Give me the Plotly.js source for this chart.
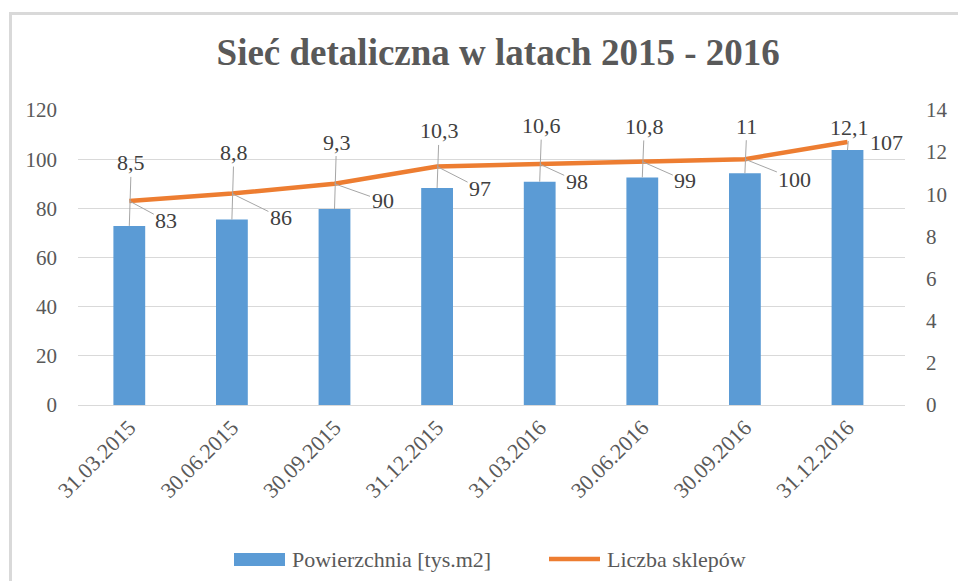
<!DOCTYPE html>
<html>
<head>
<meta charset="utf-8">
<script src="https://cdn.plot.ly/plotly-3.0.1.min.js"></script>
<style>
  html, body { margin:0; padding:0; background:#ffffff; }
  #frame { position:absolute; left:9px; top:12px; width:1000px; height:620px;
           border-left:3px solid #d9d9d9; border-top:3px solid #d9d9d9; box-sizing:border-box; }
  #chart { position:absolute; left:0; top:0; width:958px; height:581px; }
</style>
</head>
<body>
<div id="frame"></div>
<div id="chart"></div>
<script>
// ---- data ----
const categories = ["31.03.2015","30.06.2015","30.09.2015","31.12.2015","31.03.2016","30.06.2016","30.09.2016","31.12.2016"];
const powierzchnia = [8.5, 8.8, 9.3, 10.3, 10.6, 10.8, 11, 12.1];   // [tys.m2]
const liczbaSklepow = [83, 86, 90, 97, 98, 99, 100, 107];
const seriesNames = ["Powierzchnia [tys.m2]", "Liczba sklepów"];
const leftTicks = [0, 20, 40, 60, 80, 100, 120];
const rightTicks = [0, 2, 4, 6, 8, 10, 12, 14];

// ---- layout config (label offsets in px) ----
const barLabelOffsetY = [-63, -67, -67, -57, -56, -51, -47, -23];
const lineLabelOffset = [[37,20],[49,24],[48,17],[43,22],[37,17],[43,19],[50,20],[39,1]];

const W = 958, H = 581;
const M = {l:78, r:53, t:110, b:176};
const pw = W - M.l - M.r, ph = H - M.t - M.b;
const px = x => (x - M.l) / pw;
const py = y => (M.t + ph - y) / ph;

const FONT = '"Liberation Serif", serif';
const tickColor = "#595959";
const labelColor = "#404040";
const barColor = "#5B9BD5";
const lineColor = "#ED7D31";

const fmt = v => String(v).replace('.', ',');

const traces = [
  { type:'bar', name:seriesNames[0], x:categories, y:powierzchnia, yaxis:'y',
    marker:{color:barColor}, showlegend:false },
  { type:'scatter', mode:'lines', name:seriesNames[1], x:categories, y:liczbaSklepow, yaxis:'y2',
    line:{color:lineColor, width:4.5, shape:'linear'}, showlegend:false }
];

const annotations = [];
categories.forEach((c, i) => {
  annotations.push({
    x:c, y:powierzchnia[i], xref:'x', yref:'y', text:fmt(powierzchnia[i]),
    showarrow:true, arrowhead:0, arrowwidth:1, arrowcolor:'#a6a6a6', standoff:0,
    ax:2, ay:barLabelOffsetY[i], font:{family:FONT, size:22, color:labelColor}
  });
  const last = i === categories.length - 1;
  annotations.push({
    x:c, y:liczbaSklepow[i], xref:'x', yref:'y2', text:fmt(liczbaSklepow[i]),
    showarrow:true, arrowhead:0, arrowwidth:1, arrowcolor: last ? 'rgba(0,0,0,0)' : '#a6a6a6', standoff:0,
    ax:lineLabelOffset[i][0], ay:lineLabelOffset[i][1], font:{family:FONT, size:22, color:labelColor}
  });
});

// custom legend
annotations.push({ xref:'paper', yref:'paper', x:px(290), y:py(559), xanchor:'left', yanchor:'middle',
  text:seriesNames[0], showarrow:false, font:{family:FONT, size:22, color:tickColor} });
annotations.push({ xref:'paper', yref:'paper', x:px(605), y:py(559), xanchor:'left', yanchor:'middle',
  text:seriesNames[1], showarrow:false, font:{family:FONT, size:22, color:tickColor} });

const shapes = [
  { type:'rect', xref:'paper', yref:'paper', x0:px(234), x1:px(285), y0:py(566), y1:py(553),
    fillcolor:barColor, line:{width:0} },
  { type:'line', xref:'paper', yref:'paper', x0:px(549), x1:px(600), y0:py(559), y1:py(559),
    line:{color:lineColor, width:4.5} }
];

const layout = {
  width:W, height:H, margin:M,
  paper_bgcolor:'rgba(0,0,0,0)', plot_bgcolor:'rgba(0,0,0,0)',
  title:{ text:'<b>Sieć detaliczna w latach 2015 - 2016</b>', x:0.52, xref:'container', xanchor:'center',
          y:1 - 52/H, yref:'container', yanchor:'middle',
          font:{family:FONT, size:37, color:tickColor} },
  bargap:0.69,
  showlegend:false,
  xaxis:{ type:'category', tickangle:-45, tickfont:{family:FONT, size:22, color:tickColor},
          showgrid:false, showline:true, linecolor:'#d9d9d9', linewidth:1, ticks:'', zeroline:false },
  yaxis:{ side:'right', range:[0,14], tickvals:rightTicks, showgrid:false, zeroline:false,
          tickfont:{family:FONT, size:21, color:tickColor}, ticklabelstandoff:20 },
  yaxis2:{ side:'left', overlaying:'y', range:[0,120], tickvals:leftTicks, showgrid:true,
           gridcolor:'#d9d9d9', gridwidth:1, zeroline:false,
           tickfont:{family:FONT, size:21, color:tickColor}, ticklabelstandoff:20 },
  annotations:annotations, shapes:shapes
};

Plotly.newPlot('chart', traces, layout, {displayModeBar:false});
</script>
</body>
</html>
